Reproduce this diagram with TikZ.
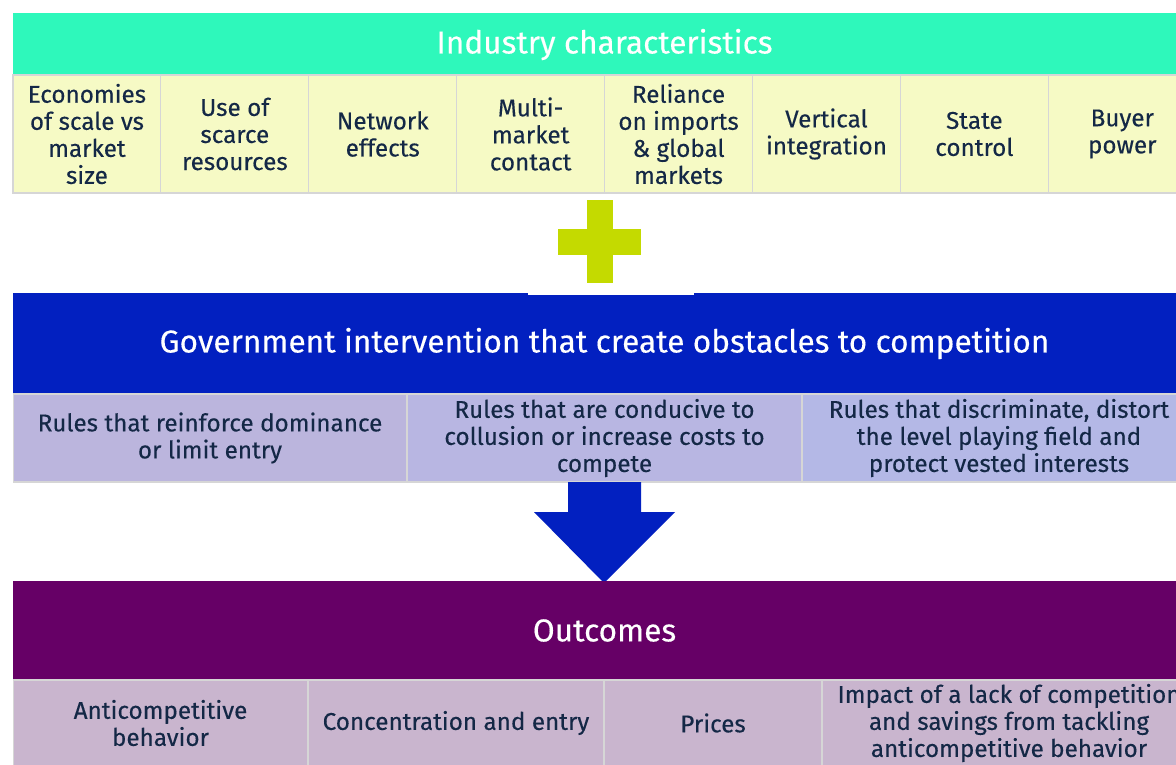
\documentclass[tikz,border=0pt]{standalone}
\usepackage{fontspec}
\setmainfont{Fira Sans}[FakeBold=0.3]
\usetikzlibrary{calc}
\definecolor{headteal}{RGB}{46,248,187}
\definecolor{charcream}{RGB}{246,250,197}
\definecolor{govblue}{RGB}{2,32,192}
\definecolor{rulelilacA}{RGB}{187,181,221}
\definecolor{rulelilacB}{RGB}{184,182,226}
\definecolor{rulelilacC}{RGB}{180,184,230}
\definecolor{outpurple}{RGB}{102,0,102}
\definecolor{outlilac}{RGB}{201,181,206}
\definecolor{pluslime}{RGB}{196,218,0}
\definecolor{cellline}{RGB}{214,214,214}
\definecolor{ink}{RGB}{20,40,70}

\begin{document}
\begin{tikzpicture}[x=0.02cm, y=-0.02cm,
  band/.style = {inner sep=0pt, outer sep=0pt, text=white, align=center,
    minimum width=23.66cm, font=\fontsize{18}{21}\selectfont},
  cell/.style = {draw=cellline, line width=0.6pt, inner sep=0pt, outer sep=0pt,
    align=center, text=ink, font=\fontsize{13.8}{15.4}\selectfont}]
  \useasboundingbox (0,0) rectangle (1176,764);
  \clip (0,0) rectangle (1176,764);

  % industry characteristics
  \node[band, fill=headteal, minimum height=1.26cm] (ind) at (604.5,44.5) {Industry characteristics};
  \tikzset{charcell/.style={cell, fill=charcream, minimum width=2.958cm, minimum height=2.36cm}}
  \node[charcell] (c1) at (86.95,134) {Economies\\of scale vs\\market\\size};
  \node[charcell] (c2) at (234.85,134) {Use of\\scarce\\resources};
  \node[charcell] (c3) at (382.75,134) {Network\\effects};
  \node[charcell] (c4) at (530.65,134) {Multi-\\market\\contact};
  \node[charcell] (c5) at (678.55,134) {Reliance\\on imports\\\& global\\markets};
  \node[charcell] (c6) at (826.45,134) {Vertical\\integration};
  \node[charcell] (c7) at (974.35,134) {State\\control};
  \node[charcell] (c8) at (1122.25,134) {Buyer\\power};

  % plus sign
  \fill[pluslime] (587,200) rectangle (613,283);
  \fill[pluslime] (558,229) rectangle (641,255);

  % government intervention
  \node[band, fill=govblue, minimum height=2.02cm] (gov) at (604.5,343.5)
    {Government intervention that create obstacles to competition};
  \fill[white] (528,292.5) rectangle (694,295);
  \node[cell, fill=rulelilacA, minimum width=7.88cm, minimum height=1.76cm] (r1) at (210,438)
    {Rules that reinforce dominance\\or limit entry};
  \node[cell, fill=rulelilacB, minimum width=7.9cm, minimum height=1.76cm] (r2) at (604.5,438)
    {Rules that are conducive to\\collusion or increase costs to\\compete};
  \node[cell, fill=rulelilacC, minimum width=7.88cm, minimum height=1.76cm] (r3) at (999,438)
    {Rules that discriminate, distort\\the level playing field and\\protect vested interests};

  % arrow down
  \fill[govblue] (568,482) -- (641,482) -- (641,512) -- (675,512) -- (604,583)
    -- (534,512) -- (568,512) -- cycle;

  % outcomes
  \node[band, fill=outpurple, minimum height=1.98cm] (out) at (604.5,630.5) {Outcomes};
  \node[cell, fill=outlilac, minimum width=5.9cm, minimum height=1.72cm] (o1) at (160.5,723)
    {Anticompetitive\\behavior};
  \node[cell, fill=outlilac, minimum width=5.92cm, minimum height=1.72cm] (o2) at (456,723)
    {Concentration and entry};
  \node[cell, fill=outlilac, minimum width=4.36cm, minimum height=1.72cm] (o3) at (713,723)
    {Prices};
  \node[cell, fill=outlilac, minimum width=7.48cm, minimum height=1.72cm] (o4) at (1009,723)
    {Impact of a lack of competition\\and savings from tackling\\anticompetitive behavior};
\end{tikzpicture}
\end{document}
